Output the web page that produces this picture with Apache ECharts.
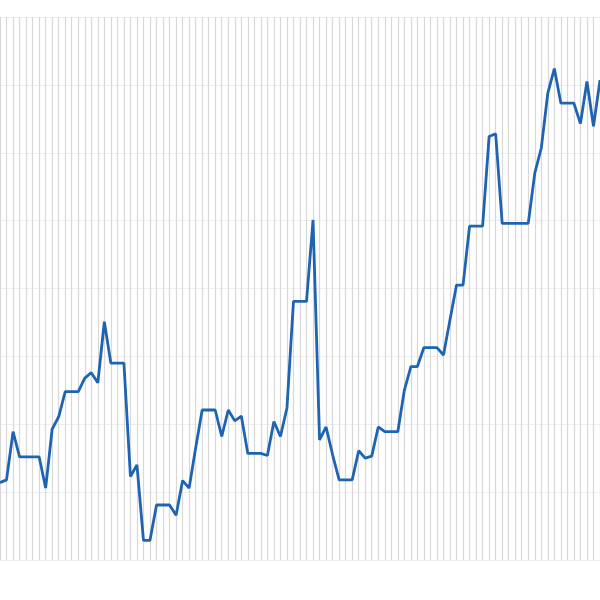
<!DOCTYPE html>
<html>
<head>
<meta charset="utf-8">
<script src="https://cdn.jsdelivr.net/npm/echarts@6/dist/echarts.min.js"></script>
<style>html,body{margin:0;padding:0;background:#fff}#c{width:600px;height:600px}</style>
</head>
<body>
<div id="c"></div>
<script>
var categories = [];
for (var k = 1; k <= 93; k++) categories.push(String(k));

var values = [
  11.4, 11.8, 18.9, 15.2, 15.2, 15.2, 15.2, 10.6, 19.3, 21.1,
  24.8, 24.8, 24.8, 26.8, 27.6, 26.1, 35.1, 29.0, 29.0, 29.0,
  12.3, 14.0, 2.9, 2.9, 8.1, 8.1, 8.1, 6.6, 11.7, 10.6,
  16.5, 22.1, 22.1, 22.1, 18.2, 22.1, 20.5, 21.2, 15.7, 15.7,
  15.7, 15.4, 20.4, 18.2, 22.4, 38.1, 38.1, 38.1, 50.1, 17.7,
  19.6, 15.5, 11.8, 11.8, 11.8, 16.1, 15.0, 15.3, 19.6, 18.9,
  18.9, 18.9, 25.0, 28.5, 28.5, 31.3, 31.3, 31.3, 30.2, 35.4,
  40.5, 40.5, 49.2, 49.2, 49.2, 62.4, 62.8, 49.6, 49.6, 49.6,
  49.6, 49.6, 57.0, 60.7, 68.8, 72.4, 67.3, 67.3, 67.3, 64.3,
  70.5, 63.9, 70.7
];

var yMin = 0, yMax = 80, yInterval = 10;

var chart = echarts.init(document.getElementById('c'), null, {renderer: 'canvas'});
chart.setOption({
  animation: false,
  backgroundColor: '#ffffff',
  grid: {left: 0, right: 0, top: 17, bottom: 40, containLabel: false},
  xAxis: {
    type: 'category',
    data: categories,
    boundaryGap: false,
    axisLine: {show: false},
    axisTick: {show: false},
    axisLabel: {show: false},
    splitLine: {show: true, interval: 0, lineStyle: {color: '#d8d8d8', width: 1.2}}
  },
  yAxis: {
    type: 'value',
    min: yMin, max: yMax, interval: yInterval,
    axisLine: {show: false},
    axisTick: {show: false},
    axisLabel: {show: false},
    splitLine: {show: true, lineStyle: {color: '#eeeeee', width: 1}}
  },
  series: [{
    type: 'line',
    data: values,
    showSymbol: false,
    symbol: 'none',
    lineStyle: {color: '#1e64b2', width: 2.8},
    itemStyle: {color: '#1e64b2'}
  }]
});
</script>
</body>
</html>
